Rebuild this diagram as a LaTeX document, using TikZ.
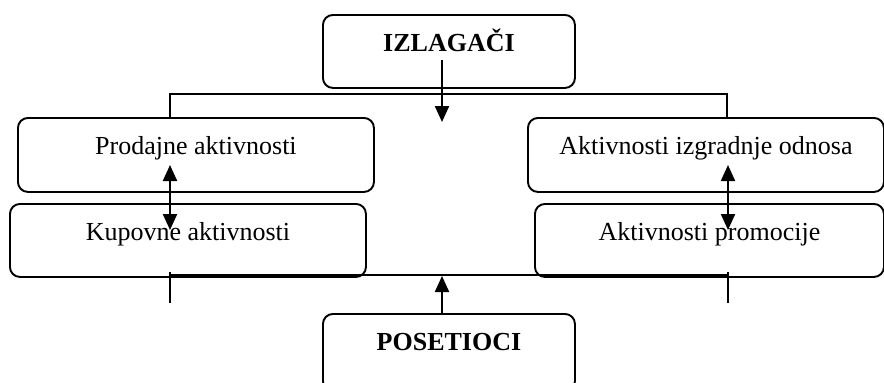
\documentclass[tikz,border=0pt]{standalone}
\usepackage{fontspec}
\setmainfont{Liberation Serif}
\usetikzlibrary{arrows.meta}
\begin{document}
\begin{tikzpicture}[x=1pt,y=-1pt,
  box/.style={draw, line width=1.9pt, rounded corners=10pt, fill=white,
    inner sep=0pt, anchor=north west, text height=37pt,
    font=\fontsize{26}{30}\selectfont},
  line/.style={line width=1.6pt},
  arr/.style={line width=2.2pt, -{Triangle[length=16pt,width=14pt]}},
  darr/.style={line width=2.2pt, {Triangle[length=16pt,width=14pt]}-{Triangle[length=16pt,width=14pt]}}]
  \useasboundingbox (0,0) rectangle (884,383);

  % boxes
  \node[box, minimum width=252pt, text depth=36pt, font=\fontsize{26}{30}\selectfont\bfseries] (izl) at (322,14) {IZLAGAČI};
  \node[box, minimum width=356pt, text depth=37pt] (prod) at (17,117) {Prodajne aktivnosti};
  \node[box, minimum width=356pt, text depth=36pt] (kup) at (9,203) {Kupovne aktivnosti};
  \node[box, minimum width=356pt, text depth=37pt] (izg) at (527,117) {Aktivnosti izgradnje odnosa};
  \node[box, minimum width=349pt, text depth=36pt] (prom) at (534,203) {Aktivnosti promocije};
  \node[box, minimum width=252pt, text depth=40pt, font=\fontsize{26}{30}\selectfont\bfseries] (pos) at (322,313) {POSETIOCI};

  % upper distribution line
  \coordinate (tl) at (170,94);
  \coordinate (tr) at (727,94);
  \draw[line] (prod.north -| tl) -- (tl) -- (tr) -- (izg.north -| tr);

  % lower collecting line
  \coordinate (bl) at (170,275);
  \coordinate (br) at (728,275);
  \coordinate (bl1) at (170,272);
  \coordinate (bl2) at (170,303);
  \coordinate (br1) at (728,272);
  \coordinate (br2) at (728,303);
  \draw[line] (bl) -- (br);
  \draw[line] (bl1) -- (bl2);
  \draw[line] (br1) -- (br2);

  % flows
  \coordinate (izlsrc) at (442,60);
  \coordinate (izldst) at (442,122);
  \draw[arr] (izlsrc) -- (izldst);
  \coordinate (posdst) at (442,276);
  \draw[arr] (pos.north -| posdst) -- (posdst);

  \coordinate (la) at (170,165);
  \coordinate (lb) at (170,230);
  \draw[darr] (la) -- (lb);
  \coordinate (ra) at (728,165);
  \coordinate (rb) at (728,230);
  \draw[darr] (ra) -- (rb);
\end{tikzpicture}
\end{document}
